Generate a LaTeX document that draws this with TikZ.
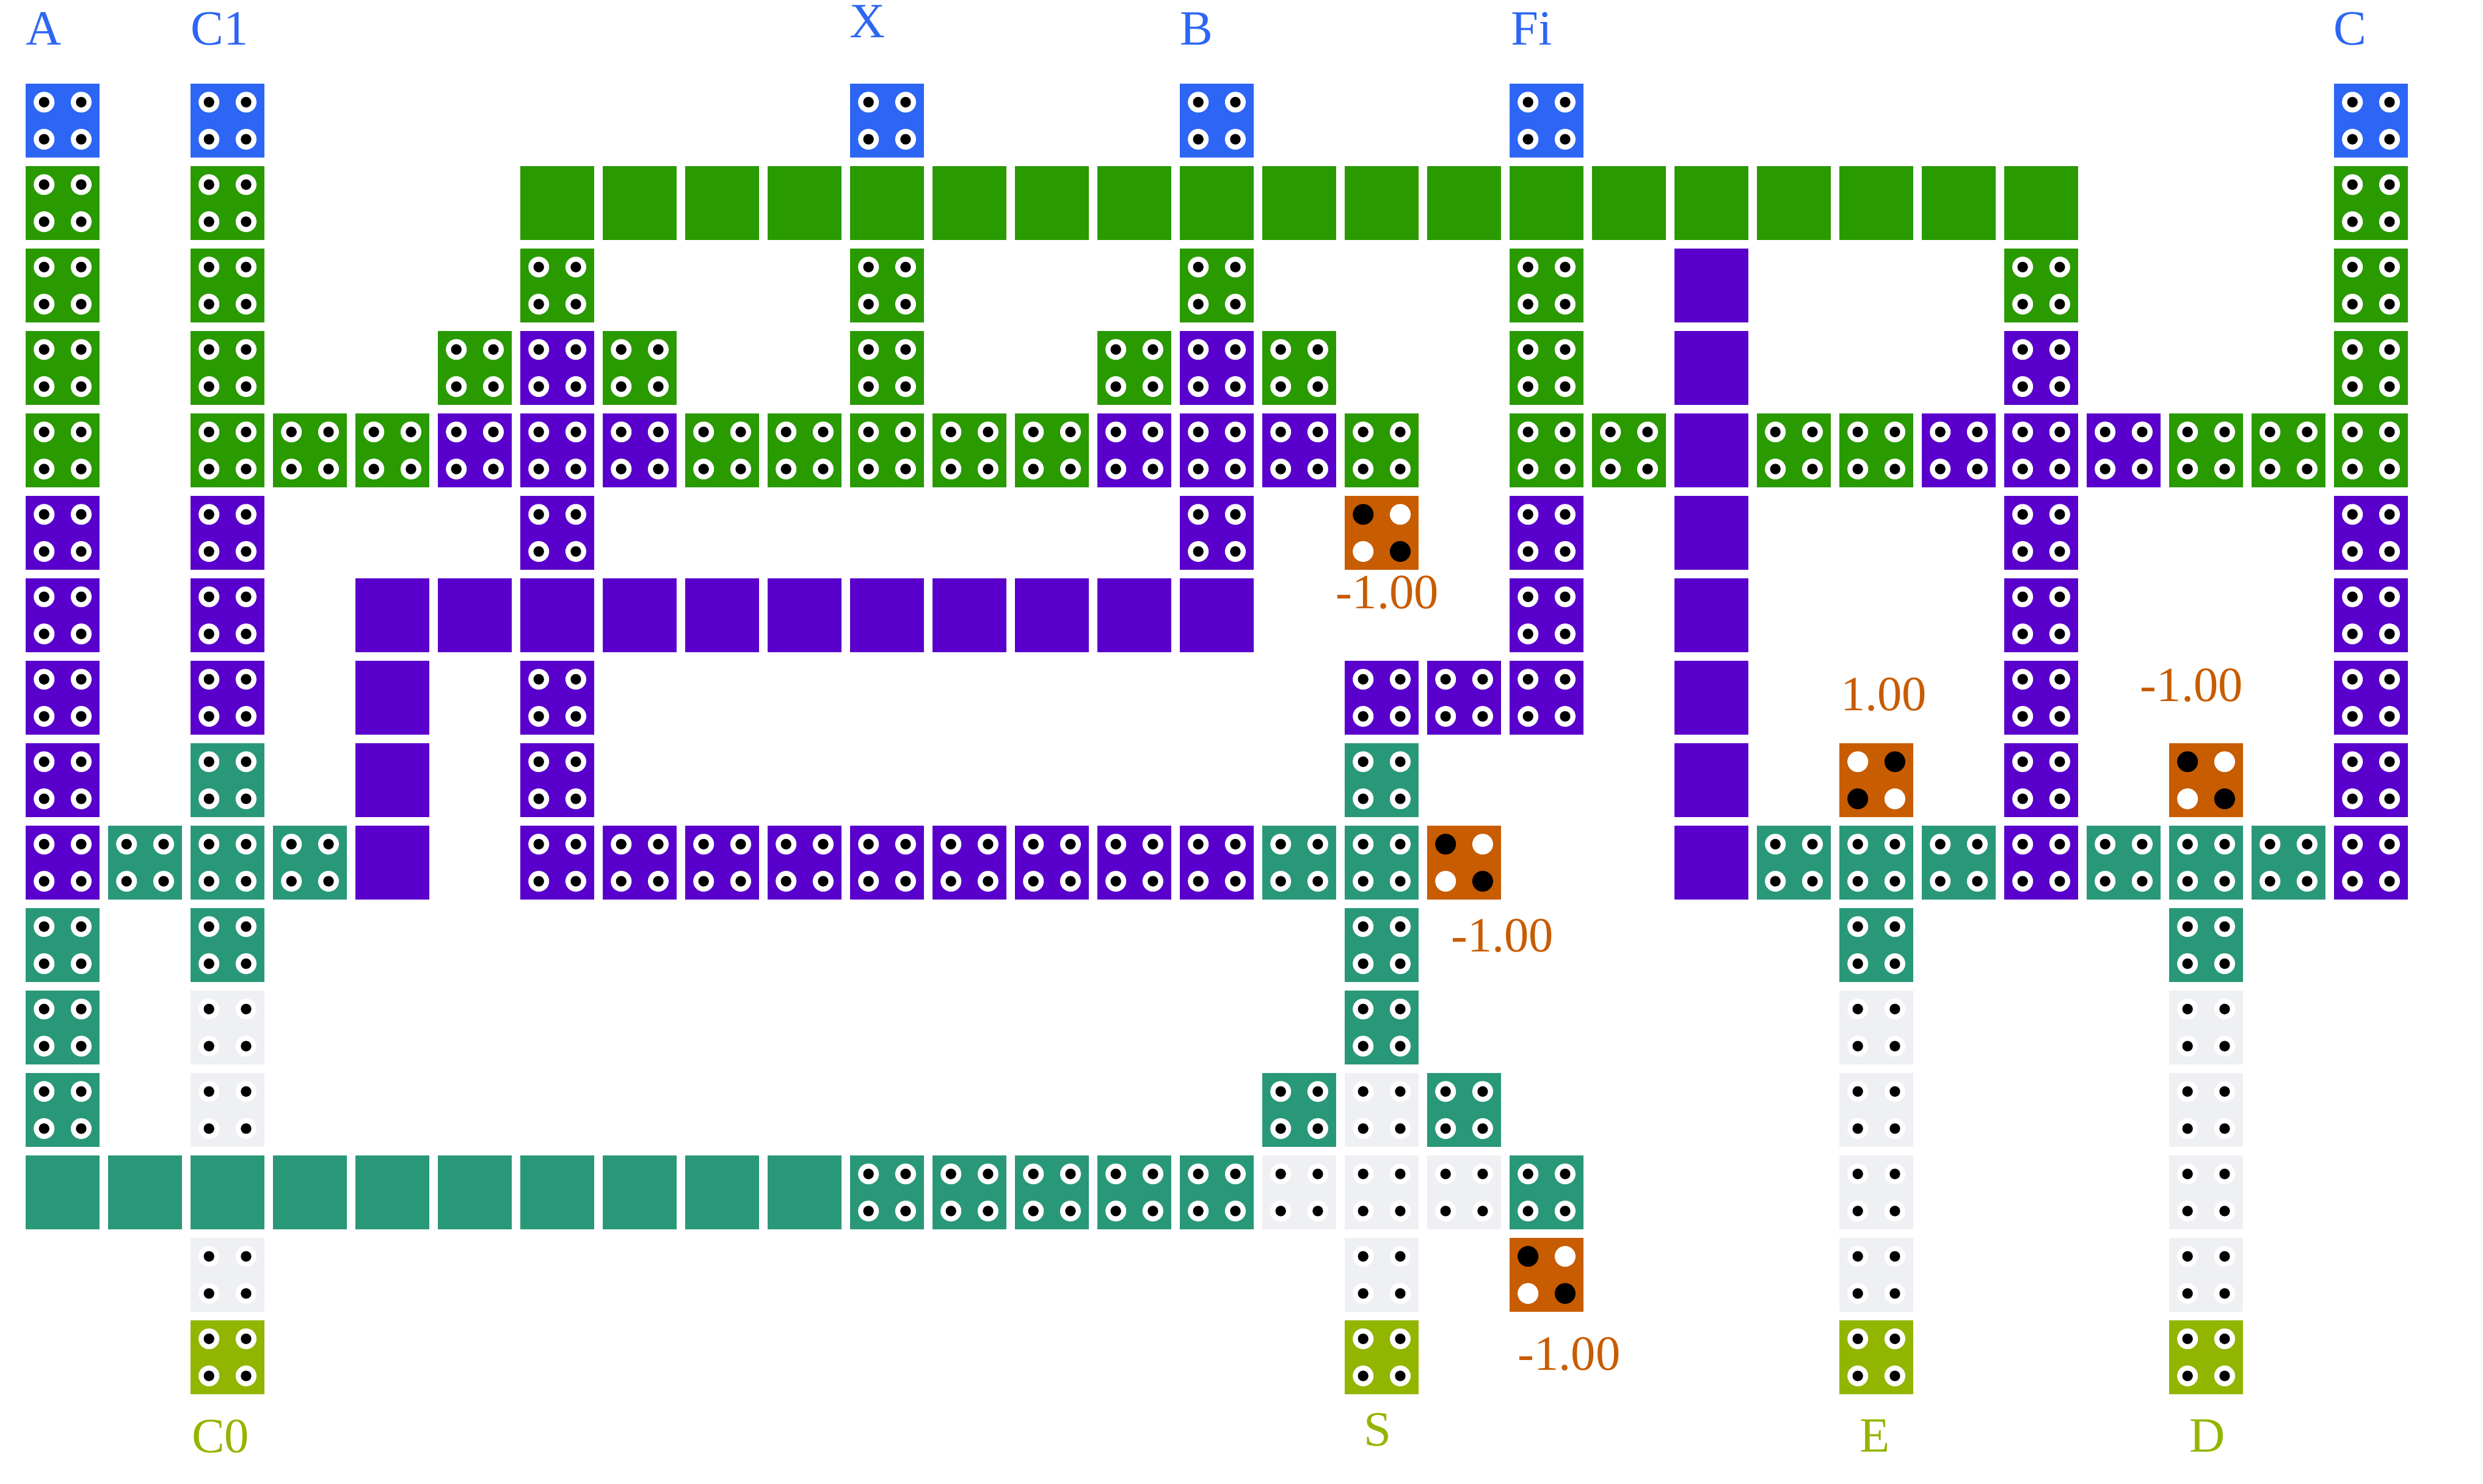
\documentclass[tikz,border=0pt]{standalone}
\usepackage{fontspec}
\setmainfont{Liberation Serif}
\definecolor{qblue}{HTML}{2D66F5}
\definecolor{qgreen}{HTML}{299A00}
\definecolor{qpurple}{HTML}{5900CC}
\definecolor{qteal}{HTML}{299878}
\definecolor{qgrey}{HTML}{EFF0F3}
\definecolor{qolive}{HTML}{92B500}
\definecolor{qorange}{HTML}{C85C00}
\tikzset{
 lab/.style={anchor=base west, inner sep=0, font=\fontsize{17}{20}\selectfont},
 inlab/.style={lab, text=qblue},
 outlab/.style={lab, text=qolive},
 vallab/.style={lab, text=qorange},
}
% tiles with four holes: #1 colour, #2 list of row/{columns}
\newcommand{\holed}[2]{
\foreach \r/\cols in {#2} {
 \foreach \c in \cols {
  \fill[#1] (\c-.45,-\r-.45) rectangle ++(.9,.9);
  \foreach \dx in {-.225,.225} {
   \foreach \dy in {-.225,.225} {
    \fill[white] (\c+\dx,-\r+\dy) circle (.126);
    \fill[black] (\c+\dx,-\r+\dy) circle (.064);
   }
  }
 }
}}
% tiles without holes
\newcommand{\plain}[2]{
\foreach \r/\cols in {#2} {
 \foreach \c in \cols {
  \fill[#1] (\c-.45,-\r-.45) rectangle ++(.9,.9);
 }
}}
\begin{document}
\begin{tikzpicture}
\useasboundingbox (0,0) rectangle (30.119,-17.993);
\begin{scope}[shift={(.76,-1.464)}]
\holed{qblue}{0/{0,2,10,14,18,28}}
\holed{qgreen}{1/{0,2,28}, 2/{0,2,6,10,14,18,24,28}, 3/{0,2,5,7,10,13,15,18,28},
 4/{0,2,3,4,8,9,10,11,12,16,18,19,21,22,26,27,28}}
\holed{qpurple}{3/{6,14,24}, 4/{5,6,7,13,14,15,23,24,25}, 5/{0,2,6,14,18,24,28},
 6/{0,2,18,24,28}, 7/{0,2,6,16,17,18,24,28}, 8/{0,6,24,28},
 9/{0,6,7,8,9,10,11,12,13,14,24,28}}
\holed{qteal}{8/{2,16}, 9/{1,2,3,15,16,21,22,23,25,26,27}, 10/{0,2,16,22,26}, 11/{0,16},
 12/{0,15,17}, 13/{10,11,12,13,14,18}}
\holed{qgrey}{11/{2,22,26}, 12/{2,16,22,26}, 13/{15,16,17,22,26}, 14/{2,16,22,26}}
\holed{qolive}{15/{2,16,22,26}}
\plain{qgreen}{1/{6,...,24}}
\plain{qpurple}{2/{20}, 3/{20}, 4/{20}, 5/{20}, 6/{4,...,14,20}, 7/{4,20}, 8/{4,20}, 9/{4,20}}
\plain{qteal}{13/{0,...,9}}
% measured tiles
\foreach \r/\c/\ia/\ib in {5/16/black/white, 8/22/white/black, 8/26/black/white,
 9/17/black/white, 14/18/black/white} {
 \fill[qorange] (\c-.45,-\r-.45) rectangle ++(.9,.9);
 \fill[\ia] (\c-.225,-\r+.225) circle (.126);
 \fill[\ib] (\c+.225,-\r+.225) circle (.126);
 \fill[\ib] (\c-.225,-\r-.225) circle (.126);
 \fill[\ia] (\c+.225,-\r-.225) circle (.126);
}
\end{scope}
\node[inlab] (inA) at (.31,-.548) {A};
\node[inlab] (inCone) at (2.31,-.548) {C1};
\node[inlab] (inX) at (10.30,-.459) {X};
\node[inlab] (inB) at (14.31,-.548) {B};
\node[inlab] (inFi) at (18.325,-.548) {Fi};
\node[inlab] (inC) at (28.30,-.548) {C};
\node[outlab] (outCzero) at (2.32,-17.62) {C0};
\node[outlab] (outS) at (16.54,-17.54) {S};
\node[outlab] (outE) at (22.556,-17.61) {E};
\node[outlab] (outD) at (26.55,-17.61) {D};
\node[vallab] (valA) at (16.20,-7.385) {-1.00};
\node[vallab] (valB) at (22.32,-8.615) {1.00};
\node[vallab] (valC) at (25.955,-8.511) {-1.00};
\node[vallab] (valD) at (17.595,-11.548) {-1.00};
\node[vallab] (valE) at (18.405,-16.622) {-1.00};
\end{tikzpicture}
\end{document}
